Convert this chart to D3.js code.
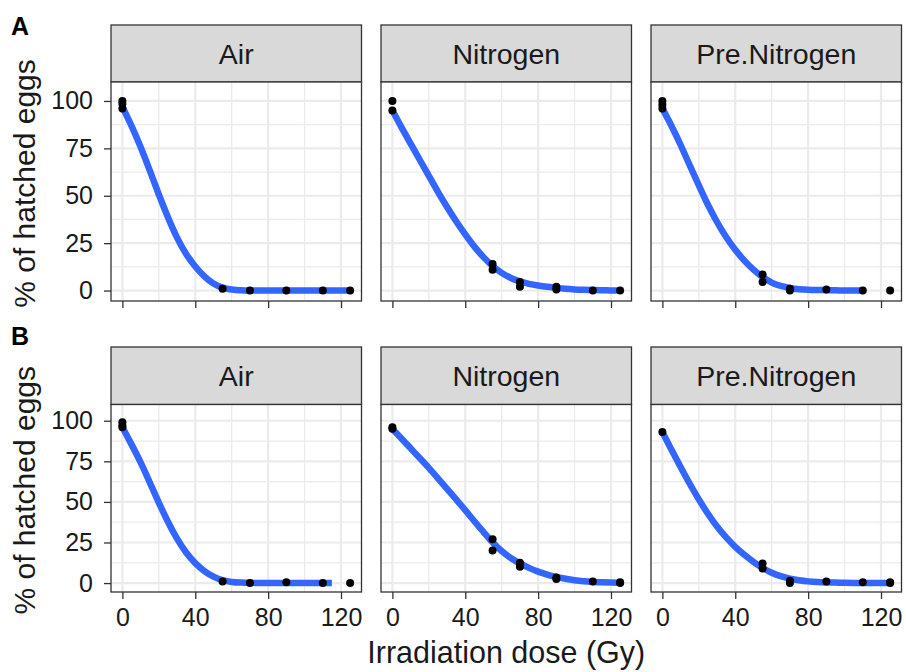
<!DOCTYPE html>
<html>
<head>
<meta charset="utf-8">
<script src="https://cdn.jsdelivr.net/npm/d3@7"></script>
<style>
  html, body { margin: 0; padding: 0; background: #fff; }
  svg { display: block; font-family: "Liberation Sans", Arial, sans-serif; }
</style>
</head>
<body>
<svg id="chart" width="906" height="672"></svg>
<script>
// ---------------- DATA ----------------
const facets = ["Air", "Nitrogen", "Pre.Nitrogen"];
const rowLabels = ["A", "B"];
const xTicks = [0, 40, 80, 120];
const yTicks = [0, 25, 50, 75, 100];
const xTitle = "Irradiation dose (Gy)";
const yTitle = "% of hatched eggs";

// observed points [dose, % hatched]
const ptsA_Air = [[0,100],[0,98.5],[0,96],[55,1],[70,0],[90,0],[110,0],[125,0]];
const ptsA_Nitrogen = [[0,100],[0,95],[55,14],[55,11],[70,4.5],[70,2],[90,2],[90,0.5],[110,0],[125,0]];
const ptsA_PreNitrogen = [[0,100],[0,98],[0,96],[55,8.5],[55,4.5],[70,1],[70,0],[90,0.5],[110,0],[125,0]];
const ptsB_Air = [[0,99],[0,97],[0,96],[55,1],[70,0],[90,0.5],[110,0],[125,0]];
const ptsB_Nitrogen = [[0,96],[0,95],[55,27],[55,20],[70,12.5],[70,10],[90,3.5],[90,2.5],[110,1],[125,0.5],[125,0]];
const ptsB_PreNitrogen = [[0,93],[55,12],[55,9],[70,1.5],[70,0],[90,1],[110,0.5],[125,0.5],[125,0]];

// smoothed fit, sampled on a dose grid (null = beyond fit range)
const fitDoses = [0,5,10,15,20,25,30,35,40,45,50,55,60,65,70,75,80,85,90,95,100,105,110,115,120,125];
const fitA_Air = [97,87,76,63.5,50.5,38.5,27.5,19,12.5,7.3,3.5,1.3,0.5,0.2,0.1,0,0,0,0,0,0,0,0,0,0,0];
const fitA_Nitrogen = [95,86,77.5,69,60.5,52,44,36.5,29.5,23,17.5,12.8,9.2,6.5,4.7,3.5,2.7,2,1.4,0.9,0.6,0.4,0.3,0.2,0.1,0];
const fitA_PreNitrogen = [96,87,77,66,55.5,45,36,28,21.4,15.6,10.9,7,4,2.3,1.3,0.7,0.4,0.3,0.2,0.1,0.1,0,0,null,null,null];
const fitB_Air = [96,85.5,74.6,62,49.5,37.5,27,18.5,12,7.2,3.8,1.6,0.6,0.3,0.2,0,0,0,0,0,0,0,0,0,null,null];
const fitB_Nitrogen = [95,89,83,77,71,64.5,58,51.5,45,38,31.5,25,19.5,15.3,12,9.3,7,5.2,3.8,2.6,1.7,1.1,0.7,0.4,0.3,0.2];
const fitB_PreNitrogen = [93,82,71.5,61,51.5,42.5,34.6,28,22.2,17.3,13,9.2,6.2,4.1,2.7,1.7,1,0.6,0.4,0.3,0.2,0.1,0.1,0.1,0.1,0.1];

// ---------------- LAYOUT ----------------
const svg = d3.select("#chart");
const colX = [111, 381, 651];
const panelW = 250.5;
const rows = [
  { labelY: 35, stripTop: 25, plotTop: 82, plotBottom: 301, showXLabels: false,
    pts: [ptsA_Air, ptsA_Nitrogen, ptsA_PreNitrogen], fits: [fitA_Air, fitA_Nitrogen, fitA_PreNitrogen] },
  { labelY: 345, stripTop: 347, plotTop: 404.5, plotBottom: 592, showXLabels: true,
    pts: [ptsB_Air, ptsB_Nitrogen, ptsB_PreNitrogen], fits: [fitB_Air, fitB_Nitrogen, fitB_PreNitrogen] }
];
const xDomain = [-6.25, 131.25];
const yDomain = [-5.5, 110];
const textCol = "#1a1a1a";
const borderCol = "#333333";

rows.forEach((row, ri) => {
  // row tag
  svg.append("text").attr("x", 11).attr("y", row.labelY)
    .attr("font-size", 25).attr("font-weight", "bold").attr("fill", "#000")
    .text(rowLabels[ri]);

  const y = d3.scaleLinear().domain(yDomain).range([row.plotBottom, row.plotTop]);

  facets.forEach((f, ci) => {
    const x0 = colX[ci];
    const x = d3.scaleLinear().domain(xDomain).range([x0, x0 + panelW]);
    const g = svg.append("g");

    // strip
    g.append("rect").attr("x", x0).attr("y", row.stripTop)
      .attr("width", panelW).attr("height", row.plotTop - row.stripTop)
      .attr("fill", "#D9D9D9").attr("stroke", borderCol).attr("stroke-width", 1.3);
    g.append("text").attr("x", x0 + panelW / 2).attr("y", (row.stripTop + row.plotTop) / 2)
      .attr("dy", "0.36em").attr("text-anchor", "middle")
      .attr("font-size", 28.5).attr("fill", textCol).text(f);

    // panel background
    g.append("rect").attr("x", x0).attr("y", row.plotTop)
      .attr("width", panelW).attr("height", row.plotBottom - row.plotTop)
      .attr("fill", "#fff");

    // grid
    const xMinor = [20, 60, 100];
    const yMinor = [12.5, 37.5, 62.5, 87.5];
    g.selectAll(".xmin").data(xMinor).enter().append("line")
      .attr("x1", d => x(d)).attr("x2", d => x(d))
      .attr("y1", row.plotTop).attr("y2", row.plotBottom)
      .attr("stroke", "#EBEBEB").attr("stroke-width", 1.3);
    g.selectAll(".ymin").data(yMinor).enter().append("line")
      .attr("x1", x0).attr("x2", x0 + panelW)
      .attr("y1", d => y(d)).attr("y2", d => y(d))
      .attr("stroke", "#EBEBEB").attr("stroke-width", 1.3);
    g.selectAll(".xmaj").data(xTicks).enter().append("line")
      .attr("x1", d => x(d)).attr("x2", d => x(d))
      .attr("y1", row.plotTop).attr("y2", row.plotBottom)
      .attr("stroke", "#EBEBEB").attr("stroke-width", 2.2);
    g.selectAll(".ymaj").data(yTicks).enter().append("line")
      .attr("x1", x0).attr("x2", x0 + panelW)
      .attr("y1", d => y(d)).attr("y2", d => y(d))
      .attr("stroke", "#EBEBEB").attr("stroke-width", 2.2);

    // fit line
    const fit = row.fits[ci].map((v, i) => [fitDoses[i], v]).filter(d => d[1] !== null);
    const line = d3.line().x(d => x(d[0])).y(d => y(d[1])).curve(d3.curveBasis);
    g.append("path").datum(fit).attr("d", line)
      .attr("fill", "none").attr("stroke", "#3366FF").attr("stroke-width", 6.5)
      .attr("stroke-linejoin", "round");

    // points
    g.selectAll(".pt").data(row.pts[ci]).enter().append("circle")
      .attr("cx", d => x(d[0])).attr("cy", d => y(d[1])).attr("r", 4)
      .attr("fill", "#000");

    // border
    g.append("rect").attr("x", x0).attr("y", row.plotTop)
      .attr("width", panelW).attr("height", row.plotBottom - row.plotTop)
      .attr("fill", "none").attr("stroke", borderCol).attr("stroke-width", 1.3);

    // x axis ticks
    const xAxis = d3.axisBottom(x).tickValues(xTicks).tickSize(7).tickPadding(9)
      .tickFormat(row.showXLabels ? d3.format("d") : () => "");
    const ax = g.append("g").attr("transform", `translate(0,${row.plotBottom})`).call(xAxis);
    ax.select(".domain").remove();
    ax.selectAll(".tick line").attr("stroke", borderCol).attr("stroke-width", 1.3);
    ax.selectAll(".tick text").attr("font-size", 25).attr("fill", textCol)
      .attr("font-family", "Liberation Sans, Arial, sans-serif");

    // y axis (first column only)
    if (ci === 0) {
      const yAxis = d3.axisLeft(y).tickValues(yTicks).tickSize(7).tickPadding(11);
      const ay = g.append("g").attr("transform", `translate(${x0},0)`).call(yAxis);
      ay.select(".domain").remove();
      ay.selectAll(".tick line").attr("stroke", borderCol).attr("stroke-width", 1.3);
      ay.selectAll(".tick text").attr("font-size", 25).attr("fill", textCol)
        .attr("font-family", "Liberation Sans, Arial, sans-serif");
    }
  });

  // y title
  const yc = (row.plotTop + row.plotBottom) / 2 - 8;
  svg.append("text").attr("transform", `translate(35,${yc}) rotate(-90)`)
    .attr("text-anchor", "middle").attr("font-size", 30).attr("fill", textCol)
    .text(yTitle);
});

// x title
svg.append("text").attr("x", (colX[0] + colX[2] + panelW) / 2).attr("y", 663)
  .attr("text-anchor", "middle").attr("font-size", 30.5).attr("fill", textCol)
  .text(xTitle);
</script>
</body>
</html>
